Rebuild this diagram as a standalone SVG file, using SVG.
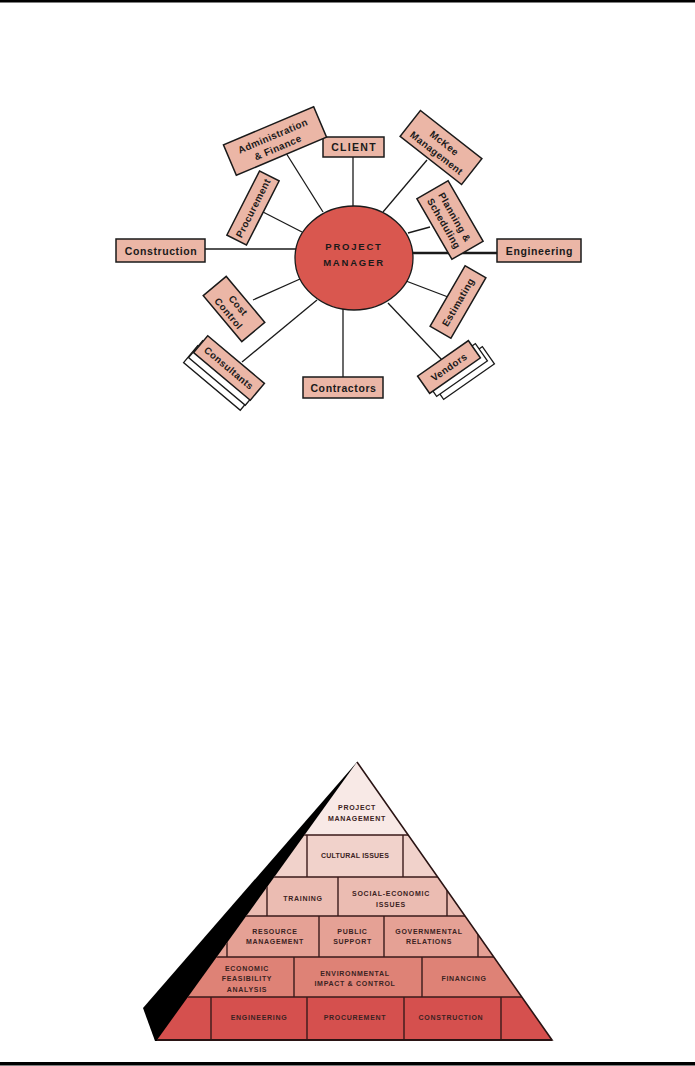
<svg xmlns="http://www.w3.org/2000/svg" width="695" height="1066" viewBox="0 0 695 1066">
<defs>
<style>
.box{fill:#ebb6a6;stroke:#1a1a1a;stroke-width:1.5}
.sheet{fill:#fff;stroke:#1a1a1a;stroke-width:1.3}
.lbl{font-family:"Liberation Sans",Arial,sans-serif;font-weight:bold;font-size:10.5px;letter-spacing:0.6px;fill:#1a1a1a;text-anchor:middle}
.sm{font-size:9.8px;letter-spacing:0.4px}
.con line{stroke:#1a1a1a;stroke-width:1.3}
.pt{font-family:"Liberation Sans",Arial,sans-serif;font-weight:bold;font-size:7px;letter-spacing:0.7px;fill:#3b2222;text-anchor:middle}
.grid{stroke:#3a1a1a;stroke-width:1.4;fill:none}
</style>
<clipPath id="tri"><polygon points="357,762 157,1040 552,1040"/></clipPath>
<clipPath id="row3clip"><rect x="150" y="877" width="400" height="37"/></clipPath>
</defs>
<rect x="0" y="0" width="695" height="2.5" fill="#000"/>
<rect x="0" y="1062" width="695" height="3.5" fill="#000"/>

<g id="connectors" class="con">
<line x1="353" y1="157" x2="353" y2="208"/>
<line x1="286" y1="153" x2="323" y2="212"/>
<line x1="427" y1="160" x2="383" y2="212"/>
<line x1="263" y1="212" x2="302" y2="232"/>
<line x1="408" y1="233" x2="430" y2="227"/>
<line x1="205" y1="249" x2="297" y2="249"/>
<line x1="411" y1="253" x2="497" y2="253" style="stroke-width:2.4"/>
<line x1="253" y1="300" x2="300" y2="279"/>
<line x1="406" y1="281" x2="448" y2="297"/>
<line x1="242" y1="362" x2="317" y2="300"/>
<line x1="343" y1="308" x2="343" y2="377"/>
<line x1="388" y1="303" x2="442" y2="360"/>
</g>

<g id="pm">
<ellipse cx="354" cy="258" rx="59" ry="52" fill="#d9574f" stroke="#1a1a1a" stroke-width="1.3"/>
<text class="lbl" x="354" y="249.5" style="font-size:9.5px;letter-spacing:1.8px">PROJECT</text>
<text class="lbl" x="354" y="265.5" style="font-size:9.5px;letter-spacing:1.8px">MANAGER</text>
</g>

<g id="client"><rect class="box" x="323" y="137" width="61" height="20"/><text class="lbl" x="354" y="151" style="letter-spacing:1.3px">CLIENT</text></g>
<g id="construction"><rect class="box" x="116" y="239" width="89" height="23"/><text class="lbl" x="161" y="254.5">Construction</text></g>
<g id="engineering"><rect class="box" x="497" y="239" width="84" height="23"/><text class="lbl" x="539.5" y="254.5">Engineering</text></g>
<g id="contractors"><rect class="box" x="303" y="377" width="80" height="21"/><text class="lbl" x="343.5" y="391.5">Contractors</text></g>

<g id="admin" transform="translate(275,141) rotate(-23)"><rect class="box" x="-49" y="-16.5" width="98" height="33"/><text class="lbl sm" x="0" y="-2">Administration</text><text class="lbl sm" x="0" y="10.5">&amp; Finance</text></g>
<g id="procurement" transform="translate(253,208) rotate(-63)"><rect class="box" x="-36" y="-11" width="72" height="22"/><text class="lbl sm" x="0" y="3.6">Procurement</text></g>
<g id="mckee" transform="translate(441,147.5) rotate(38)"><rect class="box" x="-39" y="-16.5" width="78" height="33"/><text class="lbl sm" x="0" y="-2">McKee</text><text class="lbl sm" x="0" y="10.5">Management</text></g>
<g id="planning" transform="translate(450,220) rotate(60)"><rect class="box" x="-35" y="-18" width="70" height="36"/><text class="lbl sm" x="0" y="-2">Planning &amp;</text><text class="lbl sm" x="0" y="10.5">Scheduling</text></g>
<g id="estimating" transform="translate(458,302) rotate(-60)"><rect class="box" x="-35" y="-12" width="70" height="24"/><text class="lbl sm" x="0" y="3.6">Estimating</text></g>
<g id="costcontrol" transform="translate(234,309) rotate(50)"><rect class="box" x="-30" y="-15" width="60" height="30"/><text class="lbl sm" x="0" y="-2">Cost</text><text class="lbl sm" x="0" y="10.5">Control</text></g>
<g id="consultants">
<rect class="sheet" x="-37" y="-11" width="74" height="22" transform="translate(219,378) rotate(40)"/>
<rect class="sheet" x="-37" y="-11" width="74" height="22" transform="translate(224,373) rotate(40)"/>
<g transform="translate(229,368) rotate(40)"><rect class="box" x="-37" y="-11" width="74" height="22"/><text class="lbl sm" x="0" y="3.6">Consultants</text></g>
</g>
<g id="vendors">
<rect class="sheet" x="-31" y="-10.5" width="62" height="21" transform="translate(463,373) rotate(-35)"/>
<rect class="sheet" x="-31" y="-10.5" width="62" height="21" transform="translate(456,370) rotate(-35)"/>
<g transform="translate(449,367) rotate(-35)"><rect class="box" x="-31" y="-10.5" width="62" height="21"/><text class="lbl sm" x="0" y="3.6">Vendors</text></g>
</g>

<g id="pyramid">
<polygon id="shadow" points="357,762 143,1008 155,1041 260,1041 357,800" fill="#000"/>
<g clip-path="url(#tri)">
<rect x="150" y="760" width="410" height="75" fill="#f8e9e6"/>
<rect x="150" y="835" width="410" height="42" fill="#f1d2cb"/>
<rect x="150" y="877" width="410" height="39" fill="#ebbcb2"/>
<rect x="150" y="916" width="410" height="41" fill="#e5a195"/>
<rect x="150" y="957" width="410" height="40" fill="#de8276"/>
<rect x="150" y="997" width="410" height="44" fill="#d5504e"/>
<path class="grid" d="M150 835H560M150 877H560M150 916H560M150 957H560M150 997H560
M307 835V877M403 835V877
M267 877V916M338 877V916M447 877V916
M227 916V957M319 916V957M384 916V957M478 916V957
M294 957V997M422 957V997
M211 997V1040M307 997V1040M404 997V1040M501 997V1040"/>
</g>
<path d="M357 762L552 1040H157" fill="none" stroke="#2a1414" stroke-width="1.6"/>
<line x1="157" y1="1040" x2="552" y2="1040" stroke="#2a1414" stroke-width="2.2"/>
<g id="c-pm"><text class="pt" x="357" y="810">PROJECT</text><text class="pt" x="357" y="820.5">MANAGEMENT</text></g>
<g id="c-cultural"><text class="pt" x="355" y="858" style="letter-spacing:0.2px">CULTURAL ISSUES</text></g>
<g id="c-training"><text class="pt" x="303" y="900.5">TRAINING</text></g>
<g id="c-social"><text class="pt" x="391" y="895.5">SOCIAL-ECONOMIC</text><text class="pt" x="391" y="907" clip-path="url(#row3clip)">ISSUES</text></g>
<g id="c-resource"><text class="pt" x="275" y="933.5">RESOURCE</text><text class="pt" x="275" y="944">MANAGEMENT</text></g>
<g id="c-public"><text class="pt" x="352.5" y="933.5">PUBLIC</text><text class="pt" x="352.5" y="944">SUPPORT</text></g>
<g id="c-gov"><text class="pt" x="429" y="933.5">GOVERNMENTAL</text><text class="pt" x="429" y="944">RELATIONS</text></g>
<g id="c-econ"><text class="pt" x="247" y="970.5">ECONOMIC</text><text class="pt" x="247" y="980.5">FEASIBILITY</text><text class="pt" x="247" y="991.5">ANALYSIS</text></g>
<g id="c-env"><text class="pt" x="355" y="975.5">ENVIRONMENTAL</text><text class="pt" x="355" y="985.5">IMPACT &amp; CONTROL</text></g>
<g id="c-fin"><text class="pt" x="464" y="980.5">FINANCING</text></g>
<g id="c-eng"><text class="pt" x="259" y="1019.5">ENGINEERING</text></g>
<g id="c-proc"><text class="pt" x="355" y="1019.5">PROCUREMENT</text></g>
<g id="c-cons"><text class="pt" x="451" y="1019.5">CONSTRUCTION</text></g>
</g>
</svg>
